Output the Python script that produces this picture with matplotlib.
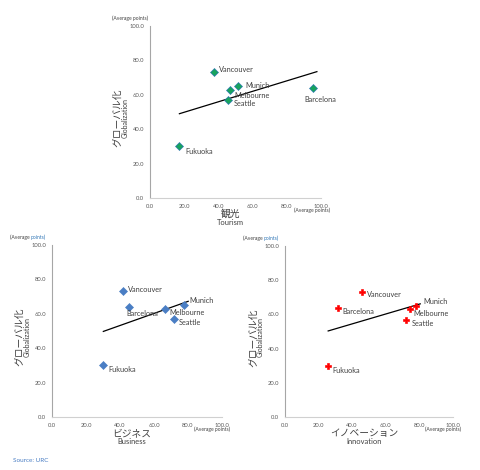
import numpy as np
import matplotlib
matplotlib.use("Agg")
import matplotlib.pyplot as plt

plt.rcParams['font.family'] = ['Lato', 'Noto Sans CJK JP', 'DejaVu Sans']

cities = ["Vancouver", "Munich", "Melbourne", "Seattle", "Barcelona", "Fukuoka"]
globalization = [73.0, 65.0, 63.0, 57.0, 64.0, 30.0]
tourism = [37.3, 51.6, 46.9, 45.7, 95.1, 17.2]
business = [42.0, 77.6, 66.7, 72.0, 45.1, 30.2]
innovation = [45.7, 78.0, 74.7, 71.9, 31.3, 25.7]
ticks = [0, 20, 40, 60, 80, 100]
tick_labels = ["0.0", "20.0", "40.0", "60.0", "80.0", "100.0"]

fig = plt.figure(figsize=(4.8, 4.7), dpi=100)

TREND_EXTEND = 2.5
TICK_COLOR = "#595959"
LABEL_COLOR = "#404040"

def panel(rect, xs, jp, en, mcolor, medge, marker, ms, offsets, yunit_split):
    ax = fig.add_axes(rect)
    ax.set_xlim(0, 100)
    ax.set_ylim(0, 100)
    ax.set_xticks(ticks)
    ax.set_yticks(ticks)
    ax.set_xticklabels(tick_labels)
    ax.set_yticklabels(tick_labels)
    ax.tick_params(length=0, labelsize=4.2, colors=TICK_COLOR, pad=4)
    for s in ["top", "right"]:
        ax.spines[s].set_visible(False)
    ax.spines["left"].set_color("#a6a6a6")
    ax.spines["bottom"].set_color("#d0d0d0")
    ax.spines["left"].set_linewidth(0.8)
    ax.spines["bottom"].set_linewidth(0.8)
    # trendline
    x = np.array(xs); y = np.array(globalization)
    k, b = np.polyfit(x, y, 1)
    xl = np.array([x.min(), x.max() + TREND_EXTEND])
    ax.plot(xl, k * xl + b, color="black", lw=0.9, zorder=2)
    ax.plot(x, y, linestyle="none", marker=marker, ms=ms, mfc=mcolor,
            mec=medge, mew=0.45, zorder=3)
    for c, xv, yv in zip(cities, xs, globalization):
        dx, dy, ha = offsets[c]
        ax.annotate(c, (xv, yv), xytext=(dx, dy), textcoords="offset points",
                    ha=ha, va="center", fontsize=5.3, color=LABEL_COLOR, zorder=4)
    # axis labels
    ax.text(-0.188, 0.465, "グローバル化", rotation=90, transform=ax.transAxes,
            ha="center", va="center", fontsize=7, color=LABEL_COLOR)
    ax.text(-0.146, 0.465, "Globalization", rotation=90, transform=ax.transAxes,
            ha="center", va="center", fontsize=5, color=LABEL_COLOR)
    ax.text(0.47, -0.095, jp, transform=ax.transAxes, ha="center", va="center",
            fontsize=7, color=LABEL_COLOR)
    ax.text(0.47, -0.145, en, transform=ax.transAxes, ha="center", va="center",
            fontsize=5.4, color=LABEL_COLOR)
    # units
    if yunit_split:
        t1 = ax.text(-0.125, 1.045, "(Average ", transform=ax.transAxes,
                     ha="right", va="center", fontsize=3.6, color=LABEL_COLOR)
        ax.annotate("points)", xy=(1, 0.5), xycoords=t1, ha="left", va="center",
                    fontsize=3.6, color="#2e75b6")
    else:
        ax.text(-0.01, 1.045, "(Average points)", transform=ax.transAxes,
                ha="right", va="center", fontsize=3.6, color=LABEL_COLOR)
    ax.text(1.05, -0.072, "(Average points)", transform=ax.transAxes,
            ha="right", va="center", fontsize=3.6, color=LABEL_COLOR)
    return ax

off_top = {
    "Vancouver": (3.6, 2.2, "left"),
    "Munich": (5.0, 0.5, "left"),
    "Melbourne": (3.0, -4.3, "left"),
    "Seattle": (4.3, -2.9, "left"),
    "Barcelona": (5.8, -8.0, "center"),
    "Fukuoka": (4.3, -3.4, "left"),
}
off_bl = {
    "Vancouver": (3.0, 1.5, "left"),
    "Munich": (3.6, 3.6, "left"),
    "Melbourne": (3.0, -2.6, "left"),
    "Seattle": (3.0, -2.2, "left"),
    "Barcelona": (-1.4, -5.0, "left"),
    "Fukuoka": (3.6, -2.6, "left"),
}
off_br = {
    "Vancouver": (3.6, -1.4, "left"),
    "Munich": (5.0, 2.9, "left"),
    "Melbourne": (2.2, -3.0, "left"),
    "Seattle": (4.3, -3.0, "left"),
    "Barcelona": (3.6, -2.6, "left"),
    "Fukuoka": (3.0, -3.6, "left"),
}

panel([150/480, 1-198/470, 171/480, 172/470], tourism, "観光", "Tourism",
      "#17a35e", "#2e75b6", "D", 4.2, off_top, False)
panel([52/480, 1-417/470, 170/480, 172/470], business, "ビジネス", "Business",
      "#4a7ec4", "#4a7ec4", "D", 4.2, off_bl, True)
panel([285/480, 1-417/470, 168/480, 171/470], innovation, "イノベーション", "Innovation",
      "#ff0000", "#ff0000", "P", 4.6, off_br, True)

fig.text(13/480, 1-461/470, "Source: URC", fontsize=4.6, color="#4a7ec4",
         ha="left", va="center")

fig.savefig("out.png", dpi=100)
